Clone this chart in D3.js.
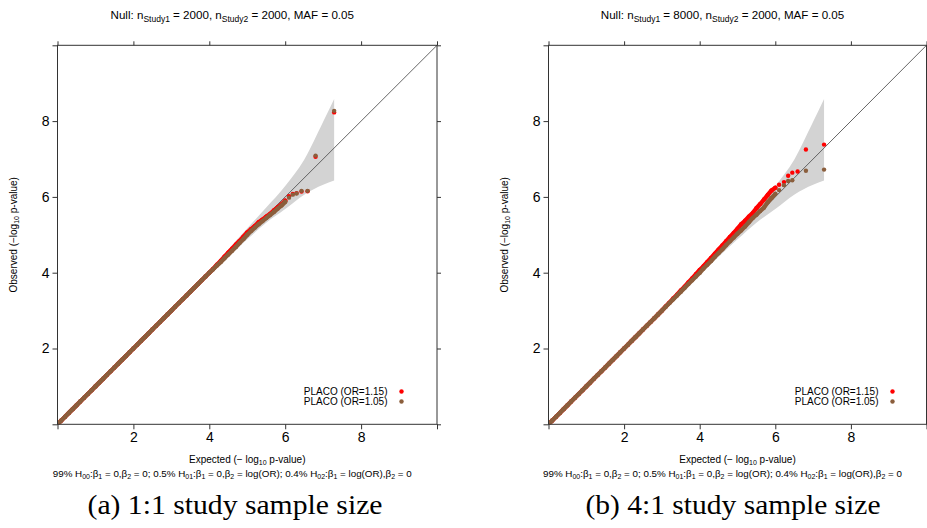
<!DOCTYPE html>
<html>
<head>
<meta charset="utf-8">
<script src="https://cdn.jsdelivr.net/npm/d3@7"></script>
<style>
  body { margin: 0; background: #fff; }
  svg { display: block; }
  text { font-family: "Liberation Sans", Arial, sans-serif; fill: #000; }
</style>
</head>
<body>
<svg id="fig" width="927" height="528"></svg>
<script>
// ---- data -------------------------------------------------------------
const tickValues = [0, 2, 4, 6, 8, 10];
const tickLabels = ["", "2", "4", "6", "8", ""];
const seriesNames = ["PLACO (OR=1.15)", "PLACO (OR=1.05)"];
const seriesColors = ["#ff0000", "#8b5e3c"];
const studyN1 = ["2000", "8000"];
const studyN2 = ["2000", "2000"];
const captions = ["(a) 1:1 study sample size", "(b) 4:1 study sample size"];

// expected -log10 p for the dense body of the QQ curve
const denseExpected = [0.0,0.1,0.2,0.3,0.4,0.5,0.6,0.7,0.8,0.9,1.0,1.1,1.2,1.3,1.4,1.5,1.6,1.7,1.8,1.9,2.0,
  2.1,2.2,2.3,2.4,2.5,2.6,2.7,2.8,2.9,3.0,3.1,3.2,3.3,3.4,3.5,3.6,3.7,3.8,3.9,4.0,
  4.1,4.2,4.3,4.4,4.5,4.6,4.7,4.8,4.9,5.0];

// panel (a) 1:1
const obsA115 = [0.0,0.1,0.2,0.3,0.4,0.5,0.6,0.7,0.8,0.9,1.0,1.1,1.2,1.3,1.4,1.5,1.6,1.7,1.8,1.9,2.0,
  2.1,2.2,2.3,2.4,2.5,2.6,2.7,2.8,2.9,3.0,3.1,3.2,3.3,3.4,3.5,3.6,3.7,3.8,3.9,4.0,
  4.1,4.21,4.31,4.42,4.53,4.63,4.74,4.84,4.95,5.06];
const obsA105 = [0.0,0.1,0.2,0.3,0.4,0.5,0.6,0.7,0.8,0.9,1.0,1.1,1.2,1.3,1.4,1.5,1.6,1.7,1.8,1.9,2.0,
  2.1,2.2,2.3,2.4,2.5,2.6,2.7,2.8,2.9,3.0,3.1,3.2,3.3,3.4,3.5,3.6,3.7,3.8,3.9,4.0,
  4.09,4.19,4.28,4.38,4.48,4.58,4.68,4.79,4.89,5.0];
const tailExpA = [5.1,5.2,5.3,5.4,5.5,5.6,5.7,5.8,5.9,6.0,6.1,6.2,6.3,6.43,6.59,6.80,7.29];
const tailA115 = [5.15,5.23,5.33,5.40,5.48,5.55,5.64,5.72,5.80,5.90,6.02,6.08,6.10,6.14,6.15,7.06,8.23];
const tailA105 = [5.10,5.19,5.28,5.36,5.44,5.52,5.60,5.69,5.77,5.87,5.98,6.06,6.09,6.16,6.16,7.09,8.27];

// panel (b) 4:1
const obsB115 = [0.0,0.1,0.2,0.3,0.4,0.5,0.6,0.7,0.8,0.9,1.0,1.1,1.2,1.3,1.4,1.5,1.6,1.7,1.8,1.9,2.0,
  2.1,2.2,2.3,2.4,2.5,2.6,2.7,2.8,2.9,3.0,3.11,3.21,3.32,3.42,3.53,3.63,3.74,3.85,3.96,4.07,
  4.17,4.28,4.39,4.50,4.61,4.72,4.83,4.94,5.05,5.16];
const obsB105 = [0.0,0.1,0.2,0.3,0.4,0.5,0.6,0.7,0.8,0.9,1.0,1.1,1.2,1.3,1.4,1.5,1.6,1.7,1.8,1.9,2.0,
  2.1,2.2,2.3,2.4,2.5,2.6,2.7,2.8,2.9,3.0,3.1,3.2,3.3,3.4,3.5,3.6,3.7,3.8,3.9,4.0,
  4.11,4.21,4.31,4.42,4.52,4.62,4.73,4.83,4.93,5.03];
const tailExpB115 = [5.1,5.2,5.3,5.4,5.5,5.6,5.7,5.8,5.9,6.0,6.1,6.23,6.34,6.45,6.59,6.81,7.29];
const tailB115 = [5.28,5.37,5.48,5.57,5.70,5.81,5.93,6.05,6.17,6.24,6.32,6.39,6.56,6.64,6.67,7.25,7.38];
const tailExpB105 = [5.1,5.2,5.3,5.4,5.5,5.6,5.7,5.8,5.9,6.0,6.1,6.23,6.34,6.45,6.81,7.29];
const tailB105 = [5.12,5.22,5.33,5.44,5.53,5.63,5.72,5.86,5.97,6.08,6.18,6.31,6.42,6.44,6.69,6.72];

// confidence band around the null diagonal
const bandExp = [0, 1, 2, 3, 3.5, 4, 4.5, 5, 5.5, 6, 6.5, 7, 7.29];
const bandLo  = [0, 1, 2, 3, 3.48, 3.95, 4.42, 4.88, 5.32, 5.68, 6.06, 6.32, 6.43];
const bandHi  = [0, 1, 2, 3, 3.52, 4.06, 4.62, 5.17, 5.72, 6.29, 6.98, 7.98, 8.58];

// ---- layout -----------------------------------------------------------
const svg = d3.select("#fig");
const plotTop = 45.3, plotBottom = 424.3;
const panels = [
  { left: 57.5, width: 379.5, capX: 235, dense: [obsA115, obsA105],
    tails: [[tailExpA, tailA115], [tailExpA, tailA105]] },
  { left: 548.5, width: 378, capX: 733, dense: [obsB115, obsB105],
    tails: [[tailExpB115, tailB115], [tailExpB105, tailB105]] }
];

panels.forEach((p, pi) => {
  const x = d3.scaleLinear().domain([0, 10]).range([p.left, p.left + p.width]);
  const y = d3.scaleLinear().domain([0, 10]).range([plotBottom, plotTop]);
  const g = svg.append("g");
  const midX = p.left + p.width / 2;

  const clipId = "clip" + pi;
  svg.append("clipPath").attr("id", clipId).append("rect")
    .attr("x", x(0)).attr("y", plotTop).attr("width", p.width).attr("height", plotBottom - plotTop);

  const plot = g.append("g").attr("clip-path", `url(#${clipId})`);

  // confidence band
  const band = bandExp.map((e, i) => ({ e, lo: bandLo[i], hi: bandHi[i] }));
  plot.append("path")
    .datum(band)
    .attr("fill", "#d3d3d3")
    .attr("d", d3.area().curve(d3.curveMonotoneX)
      .x(d => x(d.e)).y0(d => y(d.lo)).y1(d => y(d.hi)));

  // y = x reference line
  plot.append("line")
    .attr("x1", x(0)).attr("y1", y(0)).attr("x2", x(10)).attr("y2", y(10))
    .attr("stroke", "#555").attr("stroke-width", 0.9);

  // series: dense body drawn as a thick run of points, then individual tail points
  [0, 1].forEach(si => {
    const col = seriesColors[si];
    const dense = denseExpected.map((e, i) => [e, p.dense[si][i]]);
    const tail = p.tails[si][0].map((e, i) => [e, p.tails[si][1][i]]);
    const body = dense.concat(tail.slice(0, 10));
    plot.append("path")
      .datum(body)
      .attr("fill", "none").attr("stroke", col).attr("stroke-width", 4.4)
      .attr("stroke-linejoin", "round").attr("stroke-linecap", "round")
      .attr("d", d3.line().x(d => x(d[0])).y(d => y(d[1])));
    plot.selectAll(null).data(dense.concat(tail)).enter().append("circle")
      .attr("cx", d => x(d[0])).attr("cy", d => y(d[1])).attr("r", 2.2)
      .attr("fill", col);
  });

  // axes with ticks on all four sides, labels on left and bottom
  const fmt = (d, i) => tickLabels[i];
  const styleAxis = sel => {
    sel.select(".domain").remove();
    sel.selectAll(".tick line").attr("stroke", "#333");
    sel.selectAll(".tick text").style("font-family", "Liberation Sans, Arial, sans-serif")
      .style("font-size", "14px").attr("fill", "#000");
  };
  g.append("g").attr("transform", `translate(${x(0)},0)`)
    .call(d3.axisLeft(y).tickValues(tickValues).tickFormat(fmt).tickSize(5).tickPadding(3))
    .call(styleAxis);
  g.append("g").attr("transform", `translate(0,${plotBottom})`)
    .call(d3.axisBottom(x).tickValues(tickValues).tickFormat(fmt).tickSize(5).tickPadding(3))
    .call(styleAxis);
  g.append("g").attr("transform", `translate(0,${plotTop})`)
    .call(d3.axisTop(x).tickValues(tickValues).tickFormat("").tickSize(4))
    .call(styleAxis);
  g.append("g").attr("transform", `translate(${x(0) + p.width},0)`)
    .call(d3.axisRight(y).tickValues(tickValues).tickFormat("").tickSize(4))
    .call(styleAxis);

  g.append("rect")
    .attr("x", x(0)).attr("y", plotTop).attr("width", p.width).attr("height", plotBottom - plotTop)
    .attr("fill", "none").attr("stroke", "#333").attr("stroke-width", 1);

  // legend
  seriesNames.forEach((name, i) => {
    const ly = 391.5 + i * 10;
    g.append("text").attr("x", p.left + 330).attr("y", ly + 3.5)
      .attr("text-anchor", "end").style("font-size", "10px").text(name);
    g.append("circle").attr("cx", p.left + 344).attr("cy", ly).attr("r", 2.2)
      .attr("fill", seriesColors[i]);
  });

  // title
  const t = g.append("text").attr("x", midX - 15).attr("y", 18.5)
    .attr("text-anchor", "middle").style("font-size", "11.6px");
  t.append("tspan").text("Null: n");
  t.append("tspan").attr("dy", 3).style("font-size", "8.5px").text("Study1");
  t.append("tspan").attr("dy", -3).text(" = " + studyN1[pi] + ", n");
  t.append("tspan").attr("dy", 3).style("font-size", "8.5px").text("Study2");
  t.append("tspan").attr("dy", -3).text(" = " + studyN2[pi] + ", MAF = 0.05");

  // axis titles
  const xl = g.append("text").attr("x", midX).attr("y", 463)
    .attr("text-anchor", "middle").style("font-size", "10px");
  xl.append("tspan").text("Expected (\u2212 log");
  xl.append("tspan").attr("dy", 2).style("font-size", "7px").text("10");
  xl.append("tspan").attr("dy", -2).text(" p-value)");

  const yl = g.append("text")
    .attr("transform", `translate(${p.left - 41},${(plotTop + plotBottom) / 2}) rotate(-90)`)
    .attr("text-anchor", "middle").style("font-size", "10px");
  yl.append("tspan").text("Observed (\u2212log");
  yl.append("tspan").attr("dy", 2).style("font-size", "7px").text("10");
  yl.append("tspan").attr("dy", -2).text(" p-value)");

  // hypothesis mix note
  const n = g.append("text").attr("x", midX - 15).attr("y", 477)
    .attr("text-anchor", "middle").style("font-size", "9.8px");
  const sub = s => n.append("tspan").attr("dy", 2).style("font-size", "7px").text(s);
  const norm = s => n.append("tspan").attr("dy", -2).text(s);
  n.append("tspan").text("99% H");
  sub("00"); norm(":\u03b2"); sub("1"); norm(" = 0,\u03b2"); sub("2");
  norm(" = 0; 0.5% H"); sub("01"); norm(":\u03b2"); sub("1"); norm(" = 0,\u03b2"); sub("2");
  norm(" = log(OR); 0.4% H"); sub("02"); norm(":\u03b2"); sub("1"); norm(" = log(OR),\u03b2"); sub("2");
  norm(" = 0");

  // sub-figure caption
  g.append("text").attr("x", p.capX).attr("y", 514)
    .attr("text-anchor", "middle")
    .attr("textLength", 295).attr("lengthAdjust", "spacingAndGlyphs")
    .style("font-family", "'Liberation Serif', 'DejaVu Serif', serif")
    .style("font-size", "27px")
    .text(captions[pi]);
});
</script>
</body>
</html>
